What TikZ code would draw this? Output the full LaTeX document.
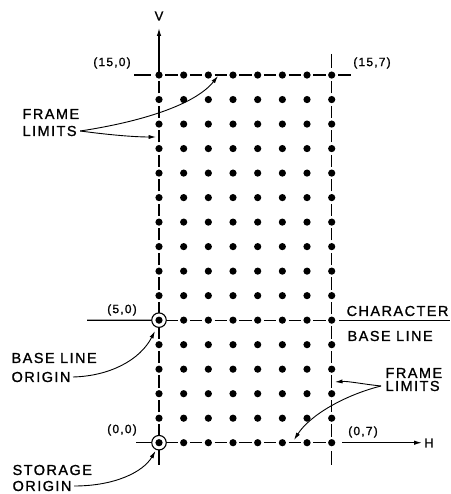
\documentclass[tikz,border=0pt]{standalone}
\usepackage{fontspec}
\setmainfont{Liberation Sans}
\newfontfamily\lbl[LetterSpace=10,FakeBold=1.2]{Liberation Sans}
\usetikzlibrary{arrows.meta,calc}
\begin{document}
\begin{tikzpicture}[x=1pt,y=-1pt, line width=1.2pt,
  big/.style={font=\lbl\fontsize{14.5}{17}\selectfont, inner sep=0pt, anchor=west},
  crd/.style={font=\lbl\fontsize{12}{14}\selectfont, inner sep=0pt},
  arr/.style={-{Latex[length=7.5pt,width=4.2pt]}, line width=0.9pt},
  axarr/.style={-{Latex[length=8pt,width=4.5pt]}, line width=1.2pt},
  gdot/.style={circle, fill=black, draw=none, inner sep=0pt, minimum size=7.2pt},
  ring/.style={circle, draw=black, fill=white, inner sep=0pt, minimum size=14.5pt, line width=1.1pt}]
\useasboundingbox (0,0) rectangle (450,494);
% grid positions
\foreach \r in {0,...,15}{
  \foreach \c in {0,...,7}{
    \coordinate (g\r-\c) at ({159+\c*24.67},{442.7-\r*24.51});
  }
}
% dashed frame lines (one dash between neighbouring dots)
\foreach \r in {0,5,15}{
  \foreach \c [evaluate=\c as \n using int(\c+1)] in {0,...,6}{
    \draw ($(g\r-\c)!0.25!(g\r-\n)$) -- ($(g\r-\c)!0.75!(g\r-\n)$);
  }
}
\foreach \c in {0,7}{
  \foreach \r [evaluate=\r as \n using int(\r+1)] in {0,...,14}{
    \draw ($(g\r-\c)!0.25!(g\n-\c)$) -- ($(g\r-\c)!0.75!(g\n-\c)$);
  }
}
% free ends of the lines
\coordinate (vtip) at (159,28);
\coordinate (tl) at (134,75.05);
\coordinate (tlb) at (151,75.05);
\coordinate (tr) at (338,75.05);
\coordinate (tre) at (351,75.05);
\coordinate (rt) at (331.69,54);
\coordinate (rte) at (331.69,68);
\coordinate (rb) at (331.69,451);
\coordinate (rbe) at (331.69,465);
\coordinate (lb) at (159,465);
\coordinate (bl) at (136,442.7);
\coordinate (ml) at (87,320.15);
\coordinate (mr) at (339,320.15);
\coordinate (mre) at (450,320.15);
\coordinate (hs) at (342,442.7);
\coordinate (htip) at (422,442.7);
% axes and extensions
\draw[axarr] (g15-0) -- (vtip);
\draw (tl) -- (tlb);
\draw (tr) -- (tre);
\draw (rt) -- (rte);
\draw (rb) -- (rbe);
\draw (g0-0) -- (lb);
\draw (bl) -- (g0-0);
\draw (ml) -- (g5-0);
\draw (mr) -- (mre);
\draw[axarr] (hs) -- (htip);
% origin rings
\node[ring] (o0) at (g0-0) {};
\node[ring] (o5) at (g5-0) {};
% dots
\foreach \r in {0,...,15}{
  \foreach \c in {0,...,7}{
    \node[gdot] (d\r-\c) at (g\r-\c) {};
  }
}
% labels
\node[font=\lbl\fontsize{13}{14}\selectfont, inner sep=0pt] (V) at (159,16) {V};
\node[font=\lbl\fontsize{13}{14}\selectfont, inner sep=0pt] (H) at (429,443) {H};
\node[crd] (c150) at (112,63) {(15,0)};
\node[crd] (c157) at (372,63) {(15,7)};
\node[crd] (c50) at (122,310) {(5,0)};
\node[crd] (c00) at (122,430) {(0,0)};
\node[crd] (c07) at (363,432) {(0,7)};
\node[big] (fl1) at (22,114) {FRAME};
\node[big] (fl2) at (22,131) {LIMITS};
\node[big] (bo1) at (11,358) {BASE LINE};
\node[big] (bo2) at (11,377) {ORIGIN};
\node[big] (so1) at (12,470) {STORAGE};
\node[big] (so2) at (12,486) {ORIGIN};
\node[big] (cb1) at (346,311) {CHARACTER};
\node[big] (cb2) at (347,336) {BASE LINE};
\node[big] (fr1) at (385,373) {FRAME};
\node[big] (fr2) at (385,386) {LIMITS};
% leader arrows
\coordinate (a1) at (218,76);
\coordinate (a2) at (156,137);
\coordinate (a3) at (155,331);
\coordinate (a4) at (155.5,451);
\coordinate (a5) at (335,382);
\coordinate (a6) at (294,440);
\draw[arr] ([xshift=3pt]fl2.east) .. controls (140,122) and (195,105) .. (a1);
\draw[arr] ([xshift=3pt]fl2.east) .. controls (110,135) and (135,137) .. (a2);
\draw[arr] ([xshift=2pt]bo2.east) .. controls (110,376) and (140,360) .. (a3);
\draw[arr] ([xshift=2pt]so2.east) .. controls (115,486) and (143,472) .. (a4);
\draw[arr] ([xshift=-4pt]fr2.west) .. controls (362,384) and (348,381) .. (a5);
\draw[arr] ([xshift=-4pt]fr2.west) .. controls (345,395) and (310,415) .. (a6);
\end{tikzpicture}
\end{document}
